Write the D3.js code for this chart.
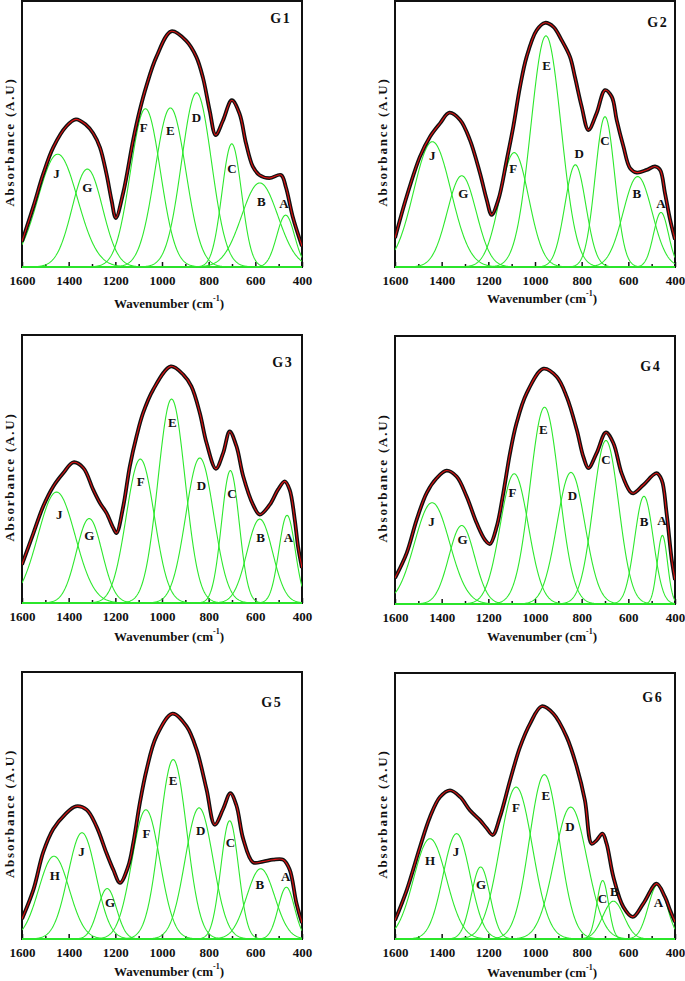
<!DOCTYPE html>
<html>
<head>
<meta charset="utf-8">
<script src="https://cdn.jsdelivr.net/npm/d3@7/dist/d3.min.js"></script>
<style>
  html, body { margin: 0; padding: 0; background: #fff; }
  svg { display: block; }
  text { font-family: "Liberation Serif", "Times New Roman", serif; font-weight: bold; fill: #111; }
</style>
</head>
<body>
<svg id="chart" width="685" height="981"></svg>
<script>
// ---------- DATA ----------
const panelNames = ["G 1", "G 2", "G 3", "G 4", "G 5", "G 6"];

// Gaussian component bands: label, centre (cm-1), height (A.U, frame = 1), sigma (cm-1), label position
const g1Labels  = ["J", "G", "F", "E", "D", "C", "B", "A"];
const g1Centers = [1447, 1320, 1071, 964, 852, 701, 581, 470];
const g1Heights = [0.424, 0.368, 0.595, 0.598, 0.655, 0.463, 0.316, 0.195];
const g1Sigmas  = [85, 65, 64, 66, 64, 42, 78, 38];
const g1LabelX  = [1452, 1320, 1078, 964, 852, 700, 574, 477];
const g1LabelY  = [0.350, 0.300, 0.524, 0.513, 0.563, 0.371, 0.246, 0.238];
// measured / fitted envelope
const g1EnvX = [1600, 1551, 1509, 1466, 1409, 1369, 1326, 1295, 1266, 1238, 1216, 1198, 1166, 1123, 1095, 1067, 1024, 960, 896, 853, 824, 796, 770, 739, 701, 668, 640, 611, 583, 540, 490, 469, 440, 400];
const g1EnvY = [0.096, 0.228, 0.350, 0.450, 0.530, 0.555, 0.535, 0.503, 0.450, 0.350, 0.250, 0.184, 0.280, 0.480, 0.590, 0.680, 0.790, 0.886, 0.850, 0.790, 0.710, 0.590, 0.496, 0.550, 0.627, 0.577, 0.465, 0.378, 0.346, 0.334, 0.346, 0.300, 0.190, 0.078];

const g2Labels  = ["J", "G", "F", "E", "D", "C", "B", "A"];
const g2Centers = [1440, 1314, 1089, 953, 827, 700, 560, 460];
const g2Heights = [0.471, 0.343, 0.430, 0.869, 0.384, 0.565, 0.340, 0.205];
const g2Sigmas  = [80, 62, 62, 65, 45, 42, 62, 32];
const g2LabelX  = [1440, 1307, 1093, 950, 811, 700, 564, 460];
const g2LabelY  = [0.418, 0.278, 0.371, 0.759, 0.425, 0.475, 0.278, 0.238];
const g2EnvX = [1600, 1550, 1493, 1450, 1407, 1367, 1321, 1279, 1236, 1207, 1186, 1157, 1121, 1093, 1064, 1036, 993, 957, 921, 886, 850, 829, 800, 771, 736, 700, 671, 650, 621, 593, 564, 521, 486, 464, 443, 421, 400];
const g2EnvY = [0.109, 0.265, 0.415, 0.490, 0.540, 0.580, 0.553, 0.478, 0.353, 0.253, 0.196, 0.253, 0.403, 0.528, 0.678, 0.790, 0.890, 0.918, 0.903, 0.853, 0.790, 0.715, 0.603, 0.515, 0.578, 0.665, 0.640, 0.553, 0.453, 0.372, 0.355, 0.365, 0.378, 0.365, 0.278, 0.178, 0.103];

const g3Labels  = ["J", "G", "F", "E", "D", "C", "B", "A"];
const g3Centers = [1452, 1312, 1093, 959, 838, 707, 581, 464];
const g3Heights = [0.414, 0.315, 0.537, 0.761, 0.541, 0.494, 0.313, 0.327];
const g3Sigmas  = [80, 55, 60, 58, 60, 38, 55, 35];
const g3LabelX  = [1440, 1312, 1091, 956, 831, 700, 577, 458];
const g3LabelY  = [0.332, 0.253, 0.454, 0.675, 0.439, 0.410, 0.245, 0.245];
const g3EnvX = [1600, 1551, 1509, 1466, 1423, 1380, 1337, 1295, 1266, 1238, 1209, 1195, 1166, 1138, 1109, 1081, 1038, 962, 909, 874, 838, 809, 769, 738, 710, 681, 652, 610, 581, 538, 503, 474, 453, 431, 417, 400];
const g3EnvY = [0.143, 0.261, 0.361, 0.435, 0.485, 0.525, 0.504, 0.423, 0.373, 0.336, 0.280, 0.261, 0.361, 0.510, 0.622, 0.709, 0.796, 0.883, 0.852, 0.808, 0.709, 0.597, 0.501, 0.559, 0.640, 0.585, 0.473, 0.367, 0.330, 0.367, 0.423, 0.454, 0.423, 0.311, 0.211, 0.131];

const g4Labels  = ["J", "G", "F", "E", "D", "C", "B", "A"];
const g4Centers = [1441, 1314, 1089, 959, 846, 696, 533, 454];
const g4Heights = [0.378, 0.293, 0.486, 0.734, 0.491, 0.610, 0.402, 0.256];
const g4Sigmas  = [75, 55, 60, 62, 60, 55, 40, 22];
const g4LabelX  = [1444, 1310, 1096, 964, 840, 696, 533, 456];
const g4LabelY  = [0.308, 0.240, 0.416, 0.652, 0.405, 0.538, 0.306, 0.311];
const g4EnvX = [1600, 1550, 1507, 1464, 1421, 1379, 1336, 1293, 1250, 1214, 1193, 1164, 1136, 1107, 1079, 1036, 964, 907, 864, 821, 793, 771, 736, 696, 664, 629, 593, 579, 536, 479, 457, 436, 414, 400];
const g4EnvY = [0.097, 0.190, 0.315, 0.415, 0.470, 0.498, 0.476, 0.401, 0.302, 0.239, 0.224, 0.289, 0.413, 0.563, 0.675, 0.786, 0.878, 0.848, 0.773, 0.650, 0.550, 0.507, 0.563, 0.640, 0.600, 0.488, 0.420, 0.413, 0.444, 0.488, 0.463, 0.339, 0.165, 0.090];

const g5Labels  = ["H", "J", "G", "F", "E", "D", "C", "B", "A"];
const g5Centers = [1463, 1343, 1235, 1069, 952, 841, 710, 577, 467];
const g5Heights = [0.310, 0.398, 0.189, 0.484, 0.672, 0.491, 0.443, 0.263, 0.194];
const g5Sigmas  = [65, 60, 40, 60, 58, 60, 38, 60, 35];
const g5LabelX  = [1459, 1345, 1223, 1066, 952, 834, 707, 581, 470];
const g5LabelY  = [0.237, 0.328, 0.137, 0.397, 0.594, 0.406, 0.362, 0.204, 0.235];
const g5EnvX = [1600, 1551, 1509, 1466, 1416, 1369, 1323, 1281, 1238, 1209, 1180, 1145, 1123, 1095, 1066, 1024, 955, 895, 852, 809, 774, 738, 707, 681, 652, 610, 567, 524, 481, 453, 424, 400];
const g5EnvY = [0.075, 0.185, 0.325, 0.412, 0.466, 0.497, 0.484, 0.422, 0.322, 0.260, 0.210, 0.272, 0.360, 0.509, 0.634, 0.759, 0.844, 0.797, 0.710, 0.560, 0.428, 0.487, 0.546, 0.500, 0.375, 0.287, 0.290, 0.297, 0.297, 0.260, 0.135, 0.060];

const g6Labels  = ["H", "J", "G", "F", "E", "D", "C", "B", "A"];
const g6Centers = [1450, 1336, 1233, 1081, 960, 847, 710, 664, 474];
const g6Heights = [0.377, 0.396, 0.271, 0.571, 0.618, 0.496, 0.220, 0.142, 0.205];
const g6Sigmas  = [70, 58, 40, 70, 64, 70, 25, 45, 40];
const g6LabelX  = [1450, 1339, 1231, 1081, 954, 850, 711, 660, 471];
const g6LabelY  = [0.296, 0.330, 0.204, 0.496, 0.538, 0.424, 0.154, 0.180, 0.139];
const g6EnvX = [1600, 1550, 1493, 1450, 1407, 1364, 1321, 1279, 1236, 1207, 1181, 1150, 1107, 1064, 1021, 971, 921, 864, 821, 786, 757, 736, 711, 693, 664, 621, 581, 536, 479, 443, 421, 400];
const g6EnvY = [0.070, 0.183, 0.346, 0.459, 0.534, 0.559, 0.534, 0.484, 0.447, 0.416, 0.391, 0.459, 0.596, 0.722, 0.810, 0.875, 0.847, 0.759, 0.647, 0.521, 0.358, 0.371, 0.396, 0.358, 0.233, 0.120, 0.083, 0.133, 0.208, 0.158, 0.108, 0.064];

const xTickLabels = [1600, 1400, 1200, 1000, 800, 600, 400];
const xMinorTicks = [1500, 1300, 1100, 900, 700, 500];
const xDomain = [1600, 400];
const xTitle = "Wavenumber (cm";
const yTitle = "Absorbance (A.U)";

// ---------- LAYOUT ----------
const layout = [
  {x0: 22,  x1: 302, y0: 1,   y1: 267, tx: 280, ty: 18,  xt: 303},
  {x0: 395, x1: 675, y0: 1,   y1: 267, tx: 657, ty: 22,  xt: 298},
  {x0: 22,  x1: 302, y0: 335, y1: 603, tx: 282, ty: 362, xt: 636},
  {x0: 395, x1: 675, y0: 336, y1: 604, tx: 650, ty: 366, xt: 636},
  {x0: 22,  x1: 302, y0: 672, y1: 939, tx: 271, ty: 702, xt: 971},
  {x0: 395, x1: 675, y0: 673, y1: 939, tx: 652, ty: 697, xt: 972}
];

const panels = [
  {labels: g1Labels, centers: g1Centers, heights: g1Heights, sigmas: g1Sigmas, lx: g1LabelX, ly: g1LabelY, ex: g1EnvX, ey: g1EnvY},
  {labels: g2Labels, centers: g2Centers, heights: g2Heights, sigmas: g2Sigmas, lx: g2LabelX, ly: g2LabelY, ex: g2EnvX, ey: g2EnvY},
  {labels: g3Labels, centers: g3Centers, heights: g3Heights, sigmas: g3Sigmas, lx: g3LabelX, ly: g3LabelY, ex: g3EnvX, ey: g3EnvY},
  {labels: g4Labels, centers: g4Centers, heights: g4Heights, sigmas: g4Sigmas, lx: g4LabelX, ly: g4LabelY, ex: g4EnvX, ey: g4EnvY},
  {labels: g5Labels, centers: g5Centers, heights: g5Heights, sigmas: g5Sigmas, lx: g5LabelX, ly: g5LabelY, ex: g5EnvX, ey: g5EnvY},
  {labels: g6Labels, centers: g6Centers, heights: g6Heights, sigmas: g6Sigmas, lx: g6LabelX, ly: g6LabelY, ex: g6EnvX, ey: g6EnvY}
];

const GREEN = "#2de82d";
const svg = d3.select("#chart");
const wn = d3.range(1600, 399, -2);

panels.forEach((p, i) => {
  const L = layout[i];
  const x = d3.scaleLinear().domain(xDomain).range([L.x0, L.x1]);
  const y = d3.scaleLinear().domain([0, 1]).range([L.y1, L.y0]);
  const g = svg.append("g");

  const clipId = "clip" + i;
  svg.append("clipPath").attr("id", clipId)
    .append("rect").attr("x", L.x0).attr("y", L.y0).attr("width", L.x1 - L.x0).attr("height", L.y1 - L.y0 + 1);

  g.append("rect").attr("x", L.x0).attr("y", L.y0)
    .attr("width", L.x1 - L.x0).attr("height", L.y1 - L.y0)
    .attr("fill", "none").attr("stroke", "#111").attr("stroke-width", 2);

  const axMaj = d3.axisBottom(x).tickValues(xTickLabels).tickSize(-5).tickPadding(9).tickFormat(d3.format("d"));
  const axG = g.append("g").attr("transform", `translate(0,${L.y1})`).call(axMaj);
  axG.select(".domain").remove();
  axG.selectAll("line").attr("stroke", "#111").attr("stroke-width", 1.5);
  axG.selectAll("text").attr("font-size", 13).attr("font-family", "Liberation Serif").attr("font-weight", "bold").attr("fill", "#111");
  const axMin = d3.axisBottom(x).tickValues(xMinorTicks).tickSize(-3).tickFormat("");
  const axM = g.append("g").attr("transform", `translate(0,${L.y1})`).call(axMin);
  axM.select(".domain").remove();
  axM.selectAll("line").attr("stroke", "#111").attr("stroke-width", 1.5);

  const gauss = (k, w) => p.heights[k] * Math.exp(-((w - p.centers[k]) ** 2) / (2 * p.sigmas[k] ** 2));
  const line = d3.line().x(d => x(d[0])).y(d => y(d[1]));
  const cg = g.append("g").attr("clip-path", `url(#${clipId})`);
  p.centers.forEach((c, k) => {
    cg.append("path").datum(wn.map(w => [w, gauss(k, w)]))
      .attr("d", line).attr("fill", "none").attr("stroke", GREEN).attr("stroke-width", 1.1);
  });

  const env = p.ex.map((w, k) => [w, p.ey[k]]);
  const envLine = d3.line().x(d => x(d[0])).y(d => y(d[1])).curve(d3.curveCatmullRom.alpha(0.5));
  cg.append("path").datum(env).attr("d", envLine).attr("fill", "none")
    .attr("stroke", "#111").attr("stroke-width", 3.8).attr("stroke-linejoin", "round");
  cg.append("path").datum(env).attr("d", envLine).attr("fill", "none")
    .attr("stroke", "#e01212").attr("stroke-width", 1.1);

  p.labels.forEach((lab, k) => {
    g.append("text").attr("x", x(p.lx[k])).attr("y", y(p.ly[k]))
      .attr("text-anchor", "middle").attr("dominant-baseline", "central")
      .attr("font-size", 13).text(lab);
  });

  g.append("text").attr("x", L.tx).attr("y", L.ty).attr("text-anchor", "middle")
    .attr("dominant-baseline", "central").attr("font-size", 14).attr("word-spacing", "-2px").text(panelNames[i]);

  const xt = g.append("text").attr("x", (L.x0 + L.x1) / 2 + 7).attr("y", L.xt)
    .attr("text-anchor", "middle").attr("dominant-baseline", "central").attr("font-size", 13);
  xt.append("tspan").text(xTitle);
  xt.append("tspan").attr("font-size", 8).attr("dy", -5).text("-1");
  xt.append("tspan").attr("dy", 5).text(")");

  g.append("text")
    .attr("transform", `translate(${L.x0 - 13},${(L.y0 + L.y1) / 2 + 8}) rotate(-90)`)
    .attr("text-anchor", "middle").attr("dominant-baseline", "central")
    .attr("font-size", 13).attr("letter-spacing", "1.8px").text(yTitle);
});
</script>
</body>
</html>
